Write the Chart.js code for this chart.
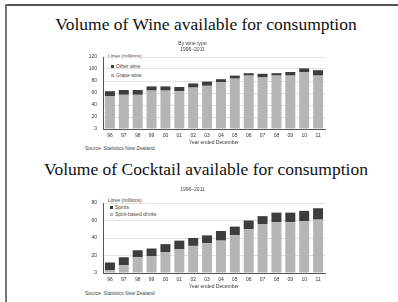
<!DOCTYPE html>
<html>
<head>
<meta charset="utf-8">
<script src="https://cdn.jsdelivr.net/npm/chart.js@4.4.0/dist/chart.umd.min.js"></script>
<style>
  html, body { margin: 0; padding: 0; background: #fff; }
  #slide { position: relative; width: 398px; height: 302px; overflow: hidden; background: #fff; }
  .frameTop { position: absolute; left: 5px; top: 4px; width: 393px; height: 2px; background: #555; }
  .frameLeft { position: absolute; left: 5px; top: 4px; width: 2px; height: 298px; background: #777; }
  .title { position: absolute; left: 0; width: 412px; text-align: center;
           font-family: "Liberation Serif", serif; font-size: 17.5px; color: #111; white-space: nowrap; }
  .small { position: absolute; font-family: "Liberation Sans", Arial, sans-serif; font-size: 5px;
           color: #444; white-space: nowrap; line-height: 6px; }
  .sw { display: inline-block; width: 3px; height: 3px; margin-right: 2px; vertical-align: middle; }
  canvas { position: absolute; }
</style>
</head>
<body>
<div id="slide">
  <div class="frameTop"></div>
  <div class="frameLeft"></div>

  <div class="title" style="top: 14px;">Volume of Wine available for consumption</div>
  <div class="small" style="left:108px; top:53px;">Litres (millions)</div>
  <div class="small" style="left:111px; top:63px;"><span class="sw" style="background:#3d3d3d"></span>Other wine</div>
  <div class="small" style="left:111px; top:72px;"><span class="sw" style="background:#b5b5b5"></span>Grape wine</div>
  <div class="small" style="left:85px; top:145px;">Source: Statistics New Zealand</div>
  <canvas id="wineChart" width="280" height="108" style="left:60px; top:38px;"></canvas>

  <div class="title" style="top: 159px;">Volume of Cocktail available for consumption</div>
  <div class="small" style="left:108px; top:197px;">Litres (millions)</div>
  <div class="small" style="left:110px; top:204px;"><span class="sw" style="background:#3d3d3d"></span>Spirits</div>
  <div class="small" style="left:110px; top:211px;"><span class="sw" style="background:#b5b5b5"></span>Spirit-based drinks</div>
  <div class="small" style="left:85px; top:290px;">Source: Statistics New Zealand</div>
  <canvas id="cocktailChart" width="280" height="106" style="left:60px; top:184px;"></canvas>
</div>

<script>
// --- Data ---
const years = ['96', '97', '98', '99', '00', '01', '02', '03', '04', '05', '06', '07', '08', '09', '10', '11'];

const grapeWine = [55, 57, 57, 64, 64, 63, 69, 72, 78, 84, 89, 86, 89, 89, 95, 89];
const otherWine = [8, 8, 8, 7, 7, 7, 7, 7, 5, 5, 4, 6, 4, 6, 6, 9];

const spiritBased = [3, 9, 18, 19, 24, 27, 31, 34, 37, 43, 50, 56, 58, 58, 59, 61];
const spirits = [9, 9, 8, 9, 9, 10, 9, 9, 11, 10, 10, 9, 11, 11, 12, 13];

const wineTicks = [0, 20, 40, 60, 80, 100, 120];
const cocktailTicks = [0, 20, 40, 60, 80];

// --- Charts ---
const tickFont = { family: 'Liberation Sans', size: 5 };
const lightGrey = '#b5b5b5';
const darkGrey = '#3d3d3d';

const makeChart = (id, lowLabel, low, highLabel, high, ticks, subtitle, topPad) => {
    const ctx = document.getElementById(id);
    const yMax = ticks[ticks.length - 1];

    return new Chart(ctx, {
        type: 'bar',
        data: {
            labels: years,
            datasets: [
                { label: lowLabel, data: low, backgroundColor: lightGrey, barPercentage: 0.72, categoryPercentage: 1 },
                { label: highLabel, data: high, backgroundColor: darkGrey, barPercentage: 0.72, categoryPercentage: 1 }
            ]
        },
        options: {
            responsive: false,
            animation: false,
            layout: { padding: { left: 0, right: 15, top: 0, bottom: 0 } },
            plugins: {
                legend: { display: false },
                tooltip: { enabled: false },
                title: {
                    display: true,
                    text: subtitle,
                    color: '#444',
                    font: { family: 'Liberation Sans', size: 5, weight: 'normal', lineHeight: 1.2 },
                    padding: { top: 3, bottom: topPad }
                }
            },
            scales: {
                x: {
                    stacked: true,
                    grid: { display: false, drawTicks: false },
                    border: { color: '#555', width: 1 },
                    ticks: { color: '#333', font: tickFont, padding: 4, maxRotation: 0, autoSkip: false },
                    title: { display: true, text: 'Year ended December', color: '#333', font: tickFont, padding: { top: 1, bottom: 0 } },
                    afterFit: (scale) => { scale.height = 17; }
                },
                y: {
                    stacked: true,
                    min: 0,
                    max: yMax,
                    afterBuildTicks: (scale) => { scale.ticks = ticks.map(v => ({ value: v })); },
                    grid: { color: '#e2e2e2', drawTicks: false },
                    border: { color: '#555', width: 1 },
                    ticks: { color: '#333', font: tickFont, padding: 6 },
                    afterFit: (scale) => { scale.width = 43; }
                }
            }
        }
    });
};

makeChart('wineChart', 'Grape wine', grapeWine, 'Other wine', otherWine, wineTicks, ['By wine type', '1996\u20132011'], 4);
makeChart('cocktailChart', 'Spirit-based drinks', spiritBased, 'Spirits', spirits, cocktailTicks, ['1996\u20132011'], 10);
</script>
</body>
</html>
